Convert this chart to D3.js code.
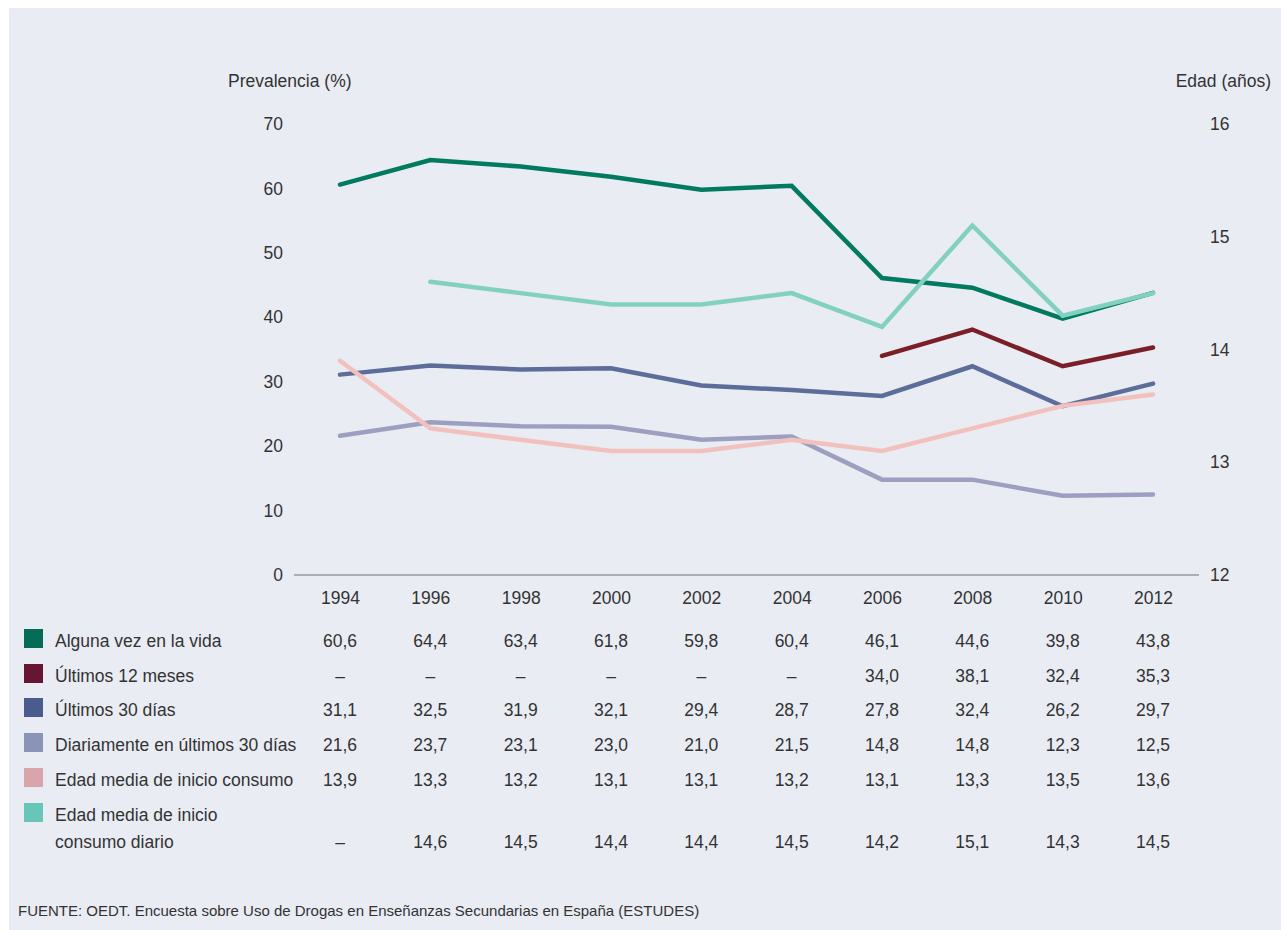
<!DOCTYPE html>
<html><head><meta charset="utf-8">
<script src="https://cdn.jsdelivr.net/npm/d3@7"></script>
<style>
html,body{margin:0;padding:0;background:#fff;}
svg{display:block;font-family:"Liberation Sans",Arial,sans-serif;}
</style></head>
<body>
<svg id="c" width="1281" height="930"></svg>
<script>
const years = [1994, 1996, 1998, 2000, 2002, 2004, 2006, 2008, 2010, 2012];
const alguna = [60.6, 64.4, 63.4, 61.8, 59.8, 60.4, 46.1, 44.6, 39.8, 43.8];
const ultimos12 = [null, null, null, null, null, null, 34.0, 38.1, 32.4, 35.3];
const ultimos30 = [31.1, 32.5, 31.9, 32.1, 29.4, 28.7, 27.8, 32.4, 26.2, 29.7];
const diario30 = [21.6, 23.7, 23.1, 23.0, 21.0, 21.5, 14.8, 14.8, 12.3, 12.5];
const edadInicio = [13.9, 13.3, 13.2, 13.1, 13.1, 13.2, 13.1, 13.3, 13.5, 13.6];
const edadDiario = [null, 14.6, 14.5, 14.4, 14.4, 14.5, 14.2, 15.1, 14.3, 14.5];
const leftTicks = [0, 10, 20, 30, 40, 50, 60, 70];
const rightTicks = [12, 13, 14, 15, 16];
const seriesNames = ["Alguna vez en la vida", "Últimos 12 meses", "Últimos 30 días",
  "Diariamente en últimos 30 días", "Edad media de inicio consumo", "Edad media de inicio|consumo diario"];

const series = [
  {name: seriesNames[0], values: alguna, axis: "L", line: "#017a5f", key: "#036b56"},
  {name: seriesNames[1], values: ultimos12, axis: "L", line: "#7a1f27", key: "#661633"},
  {name: seriesNames[2], values: ultimos30, axis: "L", line: "#5d6d9a", key: "#4a5b8d"},
  {name: seriesNames[3], values: diario30, axis: "L", line: "#9c9fc0", key: "#8a94b8"},
  {name: seriesNames[4], values: edadInicio, axis: "R", line: "#f2c0bd", key: "#d9a5ad"},
  {name: seriesNames[5], values: edadDiario, axis: "R", line: "#82d1c0", key: "#67c6b8"}
];

const svg = d3.select("#c");
const txt = "#333333";
const FS = 17.5;
svg.append("rect").attr("x", 9).attr("y", 8).attr("width", 1272).attr("height", 922).attr("fill", "#e9ecf3");

const x = d3.scaleLinear().domain([1994, 2012]).range([340, 1153]);
const yL = d3.scaleLinear().domain([0, 70]).range([575, 124]);
const yR = d3.scaleLinear().domain([12, 16]).range([575, 124]);

function styleAxis(g) {
  g.select(".domain").remove();
  g.selectAll("text").attr("font-size", FS).attr("fill", txt).attr("font-family", "Liberation Sans, Arial, sans-serif");
}

// left axis
svg.append("g").attr("transform", "translate(283,0)")
  .call(d3.axisLeft(yL).tickValues(leftTicks).tickFormat(d3.format("d")).tickSize(0).tickPadding(0))
  .call(styleAxis);

// right axis
svg.append("g").attr("transform", "translate(1210,0)")
  .call(d3.axisRight(yR).tickValues(rightTicks).tickFormat(d3.format("d")).tickSize(0).tickPadding(0))
  .call(styleAxis);

// bottom axis
svg.append("g").attr("transform", "translate(0,575)")
  .call(d3.axisBottom(x).tickValues(years).tickFormat(d3.format("d")).tickSize(0).tickPadding(17))
  .call(styleAxis);
svg.append("line").attr("x1", 294).attr("x2", 1199).attr("y1", 575).attr("y2", 575)
  .attr("stroke", "#9a9a9a").attr("stroke-width", 1.5);

svg.append("text").attr("x", 228).attr("y", 87).attr("font-size", FS).attr("fill", txt).text("Prevalencia (%)");
svg.append("text").attr("x", 1271).attr("y", 87).attr("text-anchor", "end").attr("font-size", FS).attr("fill", txt).text("Edad (años)");

// lines
series.forEach(s => {
  const yS = s.axis === "L" ? yL : yR;
  const line = d3.line().defined(d => d[1] != null).x(d => x(d[0])).y(d => yS(d[1]));
  svg.append("path").datum(years.map((yr, i) => [yr, s.values[i]]))
    .attr("d", line).attr("fill", "none").attr("stroke", s.line)
    .attr("stroke-width", 4.5).attr("stroke-linecap", "round").attr("stroke-linejoin", "miter");
});

// table
const rowY = [641, 676, 710, 745, 780, 842];
const fmt = v => v == null ? "–" : d3.format(".1f")(v).replace(".", ",");
series.forEach((s, i) => {
  const yy = rowY[i];
  const parts = s.name.split("|");
  const sqY = parts.length > 1 ? yy - 27 : yy;
  svg.append("rect").attr("x", 24).attr("y", sqY - 12).attr("width", 19).attr("height", 19).attr("fill", s.key);
  parts.forEach((p, j) => {
    svg.append("text").attr("x", 55).attr("y", sqY + 6 + j * 27)
      .attr("font-size", FS).attr("fill", txt).text(p);
  });
  years.forEach((yr, k) => {
    svg.append("text").attr("x", x(yr)).attr("y", yy + 6).attr("text-anchor", "middle")
      .attr("font-size", FS).attr("fill", txt).text(fmt(s.values[k]));
  });
});

svg.append("text").attr("x", 18).attr("y", 916).attr("font-size", 15).attr("fill", txt)
  .text("FUENTE: OEDT. Encuesta sobre Uso de Drogas en Enseñanzas Secundarias en España (ESTUDES)");
</script>
</body></html>
